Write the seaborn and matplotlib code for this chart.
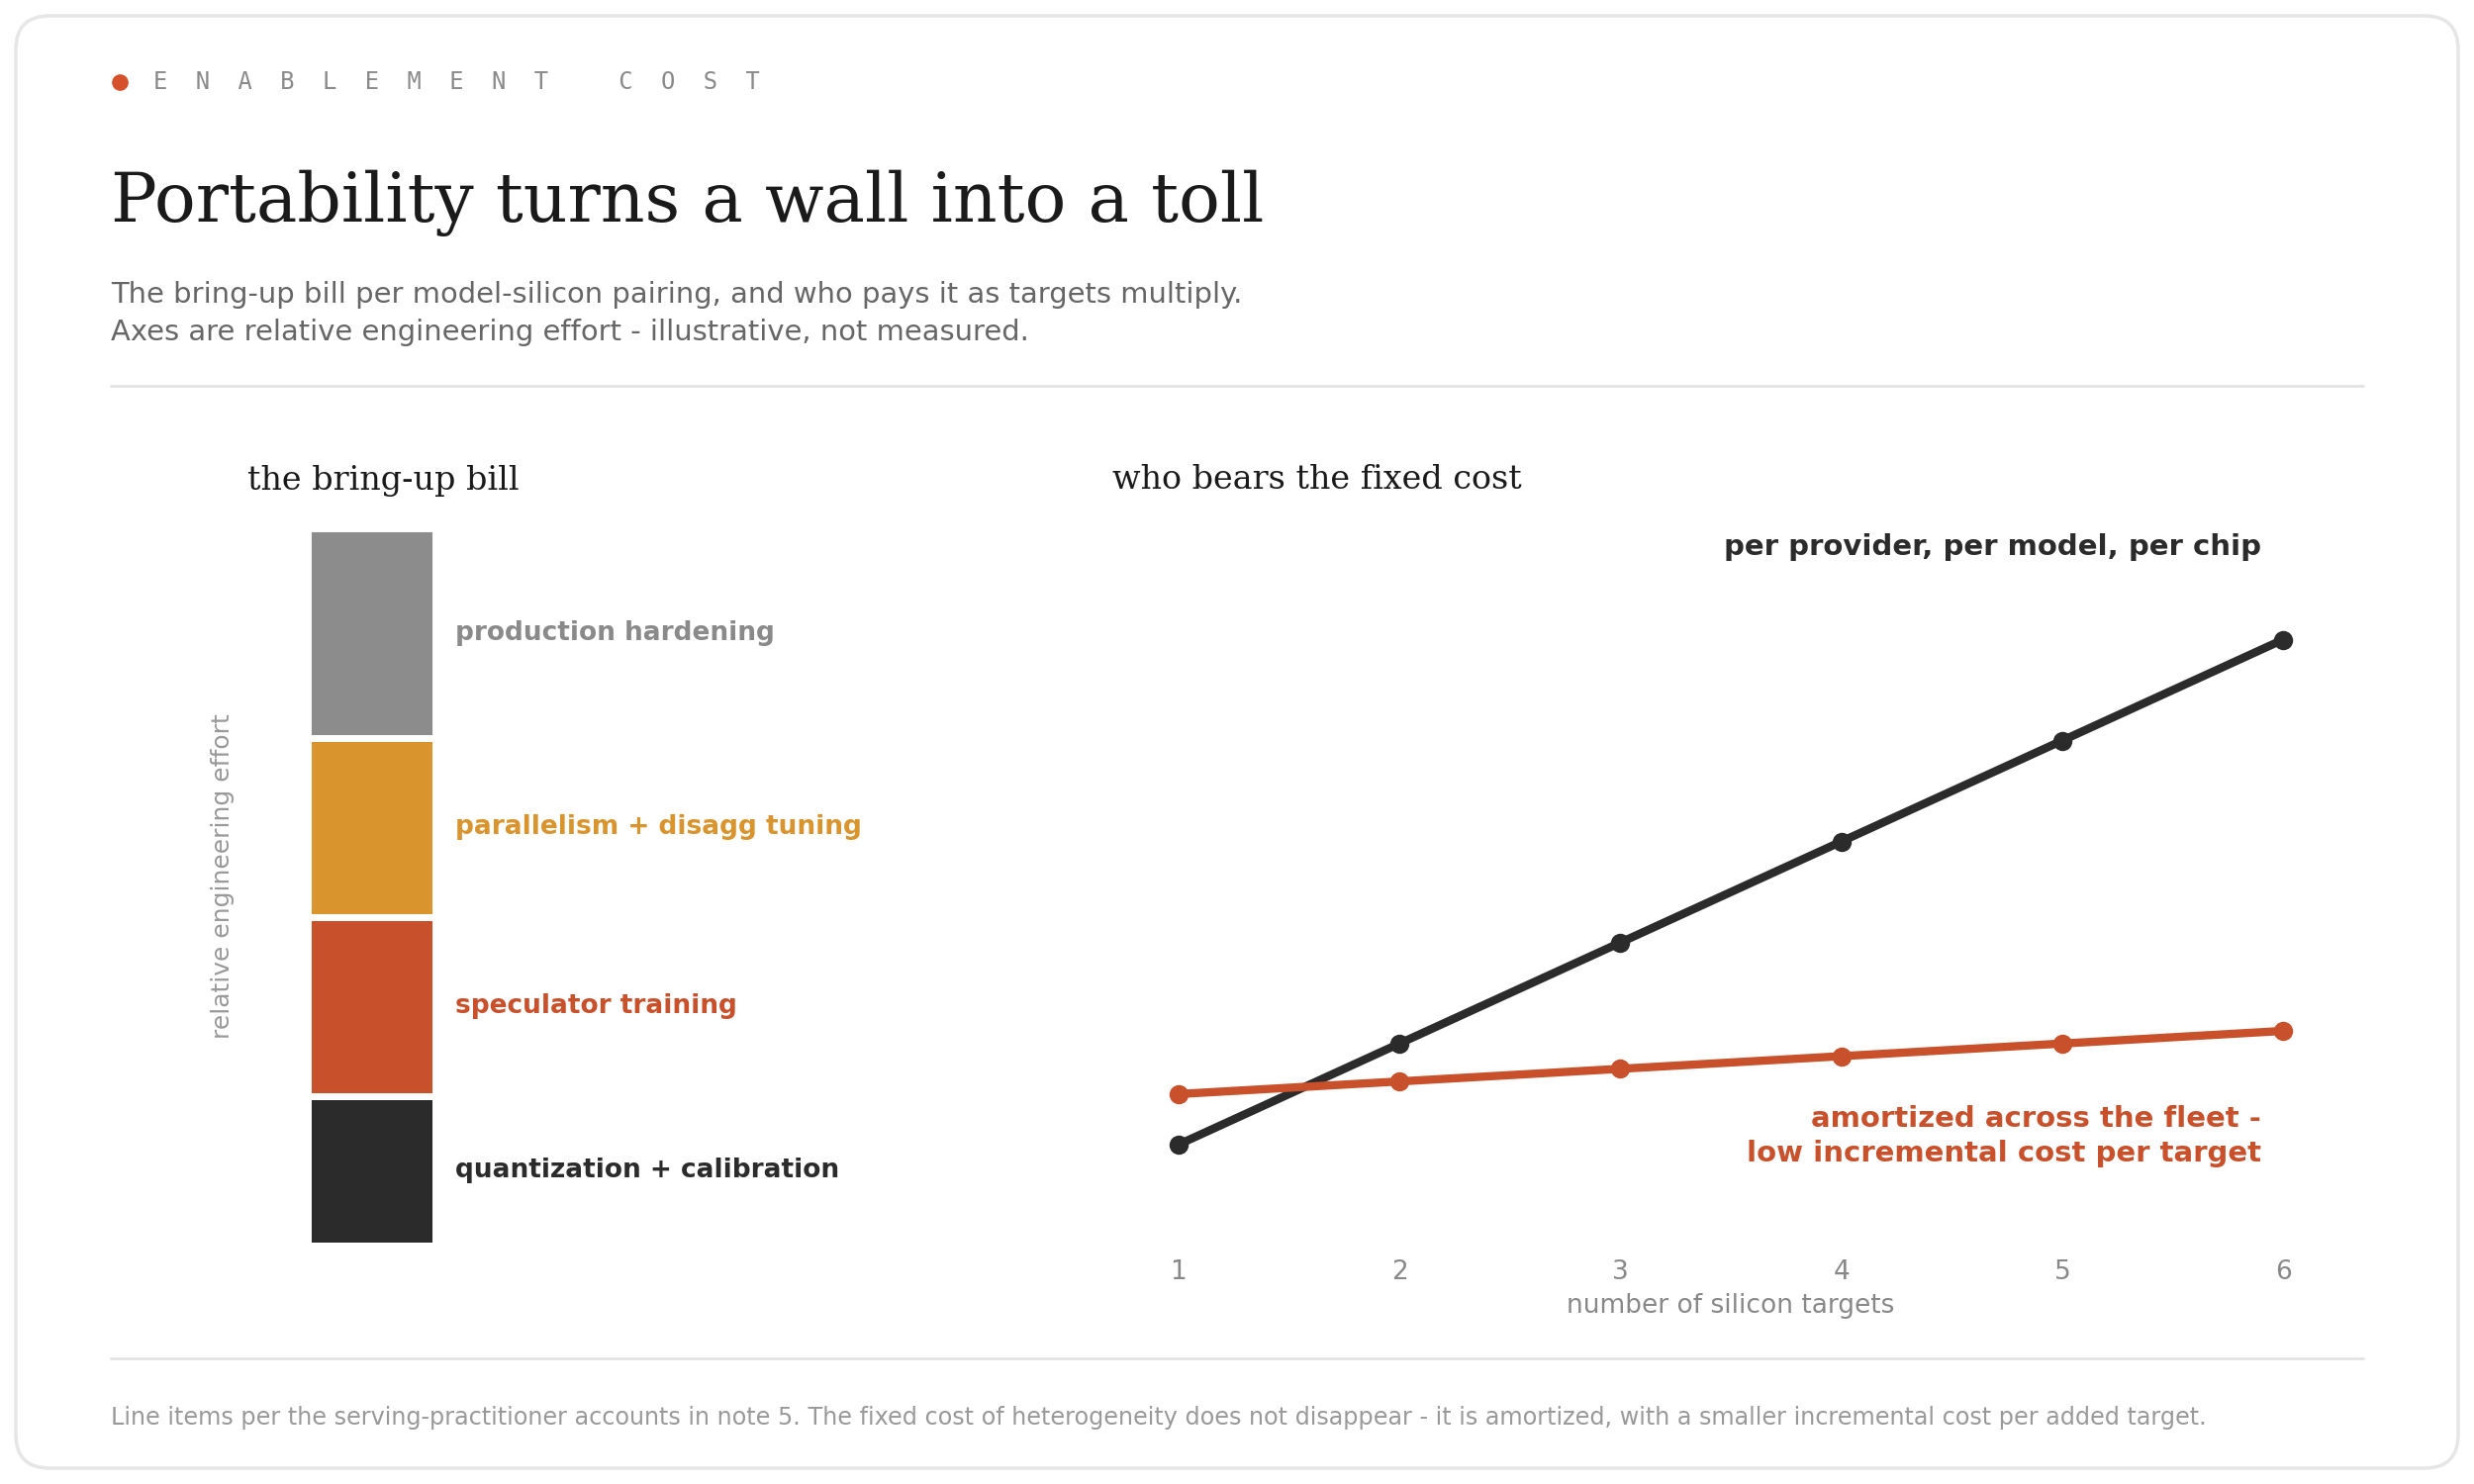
#Importing libraries
import pandas as pd
import matplotlib.pyplot as plt
import seaborn as sns
import numpy as np
from matplotlib.patches import FancyBboxPatch
from matplotlib.lines import Line2D
from matplotlib.transforms import IdentityTransform

#Chart data
BillItems = ["quantization + calibration", "speculator training", "parallelism + disagg tuning", "production hardening"]
BillEffort = [2.5, 3, 3, 3.5]
BillColours = ["#2b2b2b", "#c8502b", "#d9942e", "#8c8c8c"]
BillTextColours = ["#2b2b2b", "#c8502b", "#d9942e", "#8a8a8a"]

Targets = [1, 2, 3, 4, 5, 6]
PerProviderCost = [12, 24, 36, 48, 60, 72]
AmortizedCost = [18, 19.5, 21, 22.5, 24, 25.5]
SeriesNames = ["per provider", "amortized"]

#Styling
sns.set_theme(style="white")
plt.rcParams["font.family"] = ["DejaVu Sans"]

fig = plt.figure(figsize=(25, 15), dpi=100)
fig.patch.set_facecolor("white")

#Card outline
card = FancyBboxPatch((16, 16), 2468, 1468, boxstyle="round,pad=0,rounding_size=34",
                      transform=IdentityTransform(), facecolor="white", edgecolor="#e6e6e6", linewidth=2.5, zorder=0)
fig.add_artist(card)

#Header texts
fig.add_artist(Line2D([0.0484], [0.9447], marker="o", markersize=12, color="#d6502b", markeredgewidth=0))
fig.text(0.062, 0.9447, "E  N  A  B  L  E  M  E  N  T     C  O  S  T", family="DejaVu Sans Mono",
         fontsize=17.1, color="#8a8a8a", va="center", ha="left")
fig.text(0.0448, 0.863, "Portability turns a wall into a toll", family="DejaVu Serif", fontsize=50,
         color="#1a1a1a", va="center", ha="left")
fig.text(0.0448, 0.8013, "The bring-up bill per model-silicon pairing, and who pays it as targets multiply.",
         fontsize=20.9, color="#666666", va="center", ha="left")
fig.text(0.0448, 0.776, "Axes are relative engineering effort - illustrative, not measured.",
         fontsize=20.9, color="#666666", va="center", ha="left")
fig.add_artist(Line2D([0.0448, 0.9552], [0.74, 0.74], color="#e3e3e3", linewidth=2))
fig.add_artist(Line2D([0.0448, 0.9552], [0.0847, 0.0847], color="#e3e3e3", linewidth=2))
fig.text(0.0448, 0.0447, "Line items per the serving-practitioner accounts in note 5. The fixed cost of heterogeneity "
         "does not disappear - it is amortized, with a smaller incremental cost per added target.",
         fontsize=17.2, color="#999999", va="center", ha="left")

#Left panel: stacked bring-up bill
BillAxes = fig.add_axes([0.1, 0.1627, 0.3, 0.4793])
Bottom = 0
for Item, Effort, Colour, TextColour in zip(BillItems, BillEffort, BillColours, BillTextColours):
    BillAxes.bar(0, Effort, width=0.845, bottom=Bottom, color=Colour, edgecolor="white", linewidth=5)
    BillAxes.text(0.55, Bottom + Effort / 2, Item, color=TextColour, fontsize=19, fontweight="bold",
                  va="center", ha="left")
    Bottom += Effort
BillAxes.set_xlim(-0.816, 4.06)
BillAxes.set_ylim(0.045, sum(BillEffort) - 0.045)
BillAxes.set_xticks([])
BillAxes.set_yticks([])
sns.despine(ax=BillAxes, left=True, bottom=True)
BillAxes.set_ylabel("relative engineering effort", fontsize=18, color="#999999")
BillAxes.yaxis.set_label_coords(-0.017, 0.515)
BillAxes.set_title("the bring-up bill", loc="left", family="DejaVu Serif", fontsize=24, color="#1a1a1a", pad=30)

#Right panel: who bears the fixed cost
CostFrame = pd.DataFrame({
    "targets": Targets * 2,
    "cost": PerProviderCost + AmortizedCost,
    "series": [SeriesNames[0]] * len(Targets) + [SeriesNames[1]] * len(Targets),
})
CostAxes = fig.add_axes([0.4496, 0.1607, 0.5, 0.482])
sns.lineplot(data=CostFrame, x="targets", y="cost", hue="series", palette=["#2b2b2b", "#c8502b"],
             marker="o", markersize=14, markeredgewidth=0, linewidth=6, legend=False, ax=CostAxes)
CostAxes.set_xlim(0.7, 6.3)
CostAxes.set_ylim(0, 85)
CostAxes.set_xticks(Targets)
CostAxes.set_yticks([])
CostAxes.tick_params(axis="x", length=0, pad=10, labelsize=19, labelcolor="#888888")
sns.despine(ax=CostAxes, left=True, bottom=True)
CostAxes.set_ylabel("")
CostAxes.set_xlabel("number of silicon targets", fontsize=19, color="#888888", labelpad=6)
CostAxes.set_title("who bears the fixed cost", loc="left", family="DejaVu Serif", fontsize=24, color="#1a1a1a", pad=30)
CostAxes.text(5.9, 83, "per provider, per model, per chip", fontsize=21, fontweight="bold", color="#2b2b2b",
              ha="right", va="center")
CostAxes.text(5.9, 13, "amortized across the fleet -\nlow incremental cost per target", fontsize=21,
              fontweight="bold", color="#c8502b", ha="right", va="center", multialignment="right", linespacing=1.35)

fig.savefig("out.png", dpi=100)
